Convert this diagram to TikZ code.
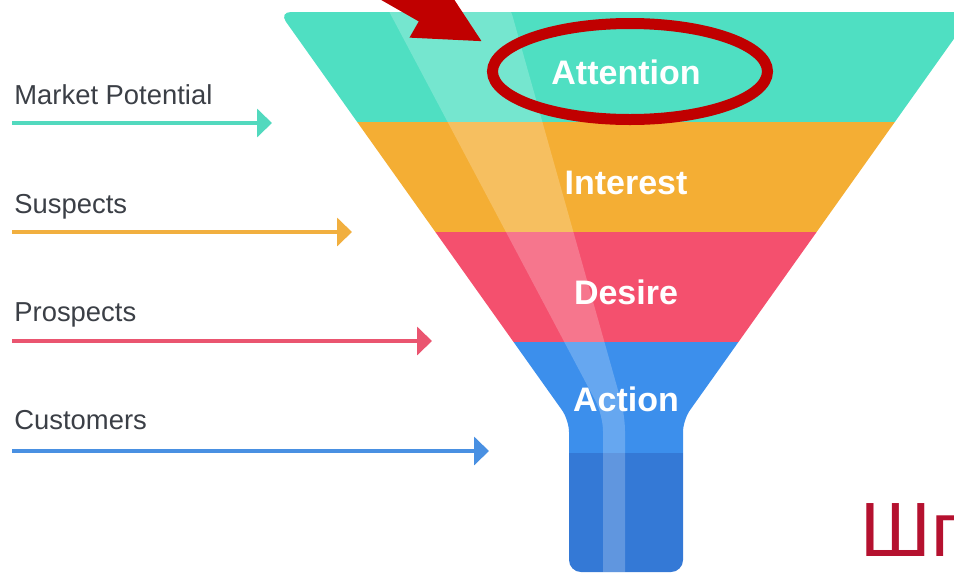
\documentclass[tikz,border=0pt]{standalone}
\usepackage{fontspec}
\setmainfont{Liberation Sans}
\newfontfamily\logofont{Liberation Sans}
\usetikzlibrary{arrows.meta, shapes.geometric}

\definecolor{attncol}{HTML}{4FDFC2}
\definecolor{intcol}{HTML}{F4AE34}
\definecolor{descol}{HTML}{F4506E}
\definecolor{actcol}{HTML}{3C8FEC}
\definecolor{neckcol}{HTML}{3479D6}
\definecolor{mpcol}{HTML}{52D9BE}
\definecolor{suscol}{HTML}{F1AF3F}
\definecolor{procol}{HTML}{EA5570}
\definecolor{cuscol}{HTML}{4990E2}
\definecolor{inkgray}{HTML}{3B3F46}
\definecolor{markred}{HTML}{C00000}
\definecolor{logored}{HTML}{B5112F}

\begin{document}
\begin{tikzpicture}[
  x=0.5pt, y=-0.5pt,
  stage/.style={anchor=base, inner sep=0pt, text=white,
    font=\fontsize{17}{17}\selectfont\bfseries},
  crowd/.style={anchor=base west, inner sep=0pt, text=inkgray,
    font=\fontsize{13.7}{14}\selectfont},
  feed/.style={-{Triangle[length=7.5pt, width=14pt]}, line width=2pt},
  ring/.style={ellipse, draw=markred, line width=5.5pt, inner sep=0pt,
    minimum width=137.5pt, minimum height=48pt},
  pointer/.style={-{Triangle[length=33pt, width=30pt]}, line width=14pt,
    draw=markred},
]

\useasboundingbox (0,0) rectangle (954,574);
\clip (0,0) rectangle (954,574);

%% ------------------------------------------------
%% Funnel body: bands clipped to the outline
%% ------------------------------------------------
\begin{scope}
  \clip[rounded corners=6pt]
    (626,12) -- (973,12) -- (683,420) -- (683,572)
    -- (569,572) -- (569,420) -- (279,12) -- cycle;
  \fill[attncol] (250,0)   rectangle (990,122);
  \fill[intcol]  (250,122) rectangle (990,232);
  \fill[descol]  (250,232) rectangle (990,342);
  \fill[actcol]  (250,342) rectangle (990,453);
  \fill[neckcol] (250,453) rectangle (990,580);
  % light glare running down the funnel
  \fill[white, opacity=.22, rounded corners=8pt]
    (383,0) -- (508,0) -- (625,415) -- (625,590)
    -- (603,590) -- (603,415) -- cycle;
\end{scope}

%% Stage names
\node[stage] (attention) at (626,84)  {Attention};
\node[stage] (interest)  at (626,194) {Interest};
\node[stage] (desire)    at (626,304) {Desire};
\node[stage] (action)    at (626,411) {Action};

%% ------------------------------------------------
%% Audience labels with their arrows
%% ------------------------------------------------
\node[crowd] (market)    at (14,104) {Market Potential};
\node[crowd] (suspects)  at (14,213) {Suspects};
\node[crowd] (prospects) at (14,321) {Prospects};
\node[crowd] (customers) at (14,429) {Customers};

\coordinate (marketfrom)    at (12,123);
\coordinate (marketto)      at (272,123);
\coordinate (suspectsfrom)  at (12,232);
\coordinate (suspectsto)    at (352,232);
\coordinate (prospectsfrom) at (12,341);
\coordinate (prospectsto)   at (432,341);
\coordinate (customersfrom) at (12,451);
\coordinate (customersto)   at (489,451);

\draw[feed, mpcol]  (marketfrom)    -- (marketto);
\draw[feed, suscol] (suspectsfrom)  -- (suspectsto);
\draw[feed, procol] (prospectsfrom) -- (prospectsto);
\draw[feed, cuscol] (customersfrom) -- (customersto);

%% ------------------------------------------------
%% Red mark on the first stage
%% ------------------------------------------------
\node[ring] (ring) at (630,71.5) {};
\coordinate (ptrtail) at (308,-58);
\coordinate (ptrtip)  at (483,42);
\draw[pointer] (ptrtail) -- (ptrtip);

%% Corner logo
\node[anchor=base west, inner sep=0pt, text=logored,
      font=\logofont\fontsize{38.5}{38.5}\selectfont] (logo) at (860,556) {Шг};

\end{tikzpicture}
\end{document}
